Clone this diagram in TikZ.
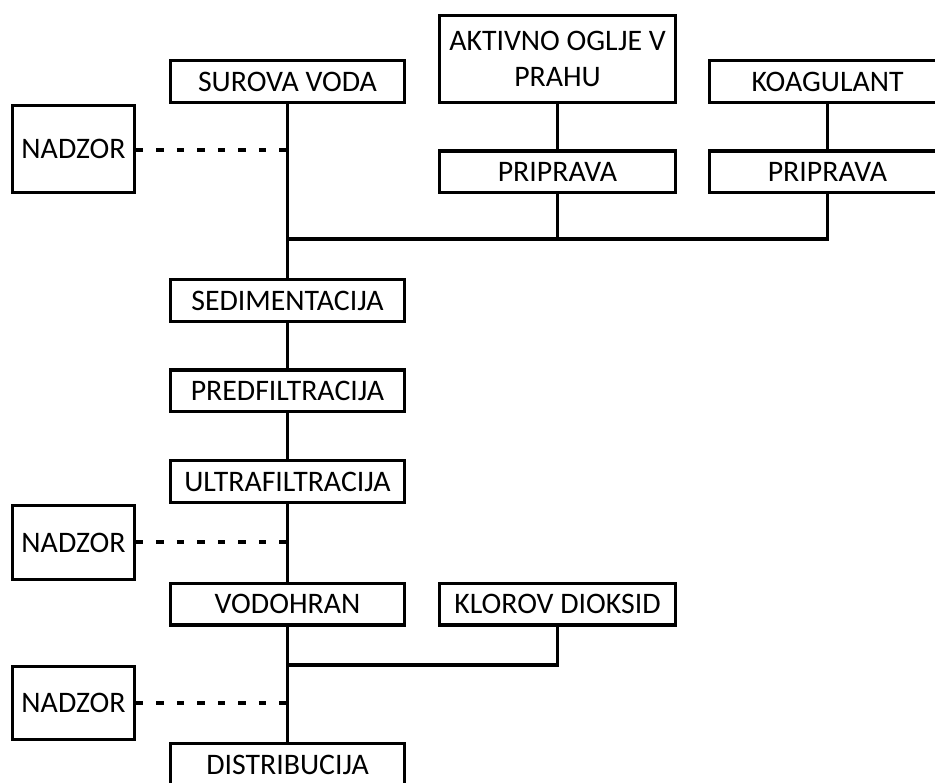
\documentclass[tikz,border=0pt]{standalone}
\usepackage{fontspec}
\setmainfont{Carlito}
\begin{document}
\begin{tikzpicture}[x=1pt,y=-1pt,
  line width=3.3pt,
  box/.style={draw, rectangle, inner sep=0pt, outer sep=0pt,
    font=\fontsize{29.8}{35.5}\selectfont, align=center,
    minimum width=234pt, minimum height=41.7pt},
  widebox/.style={box, minimum width=235.7pt},
  watch/.style={box, minimum width=121.7pt},
  link/.style={line width=3.3pt},
  monitor/.style={line width=3.3pt, dash pattern=on 7.5pt off 13pt}]
\useasboundingbox (0,0) rectangle (935,783);
\clip (0,0) rectangle (935,783);

% main process column
\node[box] (raw)   at (287.5,81.5)  {SUROVA VODA};
\node[box] (sed)   at (287.5,300.5) {SEDIMENTACIJA};
\node[box] (pre)   at (287.5,391)   {PREDFILTRACIJA};
\node[box] (ultra) at (287.5,481.5) {ULTRAFILTRACIJA};
\node[box] (res)   at (287.5,604)   {VODOHRAN};
\node[box] (dist)  at (287.5,764.5) {DISTRIBUCIJA};

% dosing branches
\node[widebox, minimum height=86.7pt] (pac) at (557.5,59) {AKTIVNO OGLJE V\\PRAHU};
\node[widebox] (prep1) at (557.5,172)  {PRIPRAVA};
\node[widebox] (coag)  at (827.5,81.5) {KOAGULANT};
\node[widebox] (prep2) at (827.5,172)  {PRIPRAVA};
\node[widebox] (clo2)  at (557.5,604)  {KLOROV DIOKSID};

% monitoring points
\node[watch, minimum height=86.7pt] (mon1) at (73.5,149)   {NADZOR};
\node[watch, minimum height=73.7pt] (mon2) at (73.5,542.5) {NADZOR};
\node[watch, minimum height=72.7pt] (mon3) at (73.5,703)   {NADZOR};

% junctions on the main line
\coordinate (j1) at (287.5,239);
\coordinate (j2) at (287.5,665);
\coordinate (m1) at (287.5,150);
\coordinate (m2) at (287.5,542);
\coordinate (m3) at (287.5,703);

% main flow
\draw[link] (raw.south) -- (sed.north);
\draw[link] (sed.south) -- (pre.north);
\draw[link] (pre.south) -- (ultra.north);
\draw[link] (ultra.south) -- (res.north);
\draw[link] (res.south) -- (dist.north);

% chemical feeds
\draw[link] (pac.south) -- (prep1.north);
\draw[link] (coag.south) -- (prep2.north);
\draw[link] (prep1.south) |- (j1);
\draw[link] (prep2.south) |- (j1);
\draw[link] (clo2.south) |- (j2);

% monitoring links
\draw[monitor] ([xshift=1.6pt]mon1.east |- m1) -- (m1);
\draw[monitor] ([xshift=1.6pt]mon2.east |- m2) -- (m2);
\draw[monitor] ([xshift=1.6pt]mon3.east |- m3) -- (m3);
\end{tikzpicture}
\end{document}
